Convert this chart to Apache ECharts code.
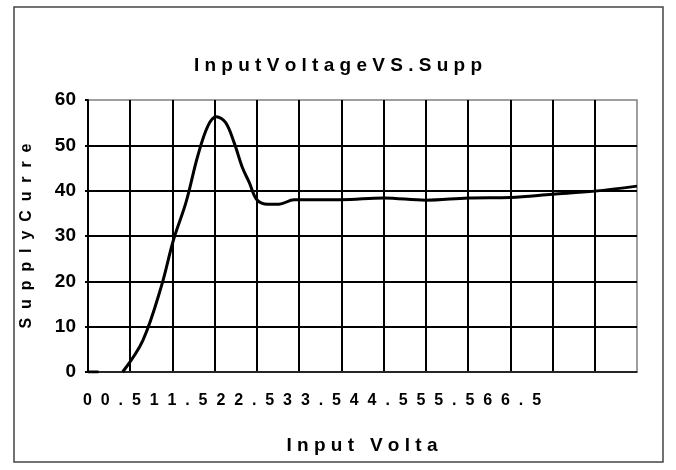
<!DOCTYPE html>
<html>
<head>
<meta charset="utf-8">
<script src="https://cdn.jsdelivr.net/npm/echarts@6/dist/echarts.min.js"></script>
<style>
  html, body { margin: 0; padding: 0; background: #fff; }
  #chart { width: 676px; height: 470px; }
</style>
</head>
<body>
<div id="chart"></div>
<script>
//titles as shown (truncated in the original)
const titleText = "InputVoltageVS.Supp";
const yName = "SupplyCurre";
const xName = "Input Volta";

//x tick labels (volts) - printed run together under the axis
const xTicks = ["0", "0.5", "1", "1.5", "2", "2.5", "3", "3.5", "4", "4.5", "5", "5.5", "6", "6.5"];

//short flat start segment
const stubX = [0, 0.125];
const stubY = [0, 0];

//main curve - input voltage (V) vs supply current
const voltX = [0.41, 0.65, 0.87, 1.01, 1.16, 1.30, 1.42, 1.52, 1.63, 1.73, 1.83, 1.91, 2.00, 2.13, 2.26, 2.44, 2.84, 3.00, 3.50, 4.00, 4.50, 5.00, 5.50, 6.00, 6.50];
const currY = [0, 7, 19, 29, 37.4, 47.7, 54.3, 56.3, 55, 50.6, 45, 41.8, 38, 37, 37, 38, 38, 38, 38.4, 37.9, 38.4, 38.5, 39.2, 39.9, 41];

const font = "'Liberation Sans', Arial, sans-serif";
const pair = (xs, ys) => xs.map((x, i) => [x, ys[i]]);
//letter spaced text, sep between every character
const spaced = (s, sep) => s.split("").join(sep);

const chart = echarts.init(document.getElementById("chart"));
const option = {
    backgroundColor: "#fff",
    animation: false,
    title: {
        text: spaced(titleText, " "),
        left: "center",
        top: 51,
        textStyle: { fontFamily: font, fontSize: 19, fontWeight: "bold", color: "#000" }
    },
    grid: {
        left: 88,
        right: 39,
        top: 100,
        bottom: 98,
        show: true,
        borderColor: "#808080",
        borderWidth: 1.5
    },
    xAxis: {
        type: "value",
        min: 0,
        max: 6.5,
        interval: 0.5,
        axisLine: { lineStyle: { color: "#333", width: 1.5 } },
        axisTick: { show: false },
        axisLabel: { show: false },
        splitLine: { show: true, showMaxLine: false, lineStyle: { color: "#000", width: 2 } }
    },
    yAxis: {
        type: "value",
        min: 0,
        max: 60,
        interval: 10,
        name: spaced(yName, "  "),
        nameLocation: "middle",
        nameRotate: 90,
        nameGap: 53,
        nameTextStyle: { fontFamily: font, fontSize: 16, fontWeight: "bold", color: "#000" },
        axisLine: { show: true, lineStyle: { color: "#000", width: 2 } },
        axisTick: { show: true, length: 3, lineStyle: { color: "#000", width: 2 } },
        axisLabel: { fontFamily: font, fontSize: 19, fontWeight: "bold", color: "#000", margin: 12 },
        splitLine: { show: true, showMaxLine: false, lineStyle: { color: "#000", width: 2 } }
    },
    graphic: [
        {
            type: "rect",
            shape: { x: 14, y: 7, width: 649, height: 455 },
            style: { fill: "none", stroke: "#444", lineWidth: 1.5 },
            silent: true
        },
        {
            type: "text",
            x: 83,
            y: 393,
            style: {
                text: spaced(xTicks.join(""), "  "),
                fontFamily: font, fontSize: 16, fontWeight: "bold", fill: "#000"
            }
        },
        {
            type: "text",
            x: 362,
            y: 436,
            style: {
                text: spaced(xName, " "),
                textAlign: "center",
                fontFamily: font, fontSize: 19, fontWeight: "bold", fill: "#000"
            }
        }
    ],
    series: [
        {
            type: "line",
            data: pair(stubX, stubY),
            showSymbol: false,
            lineStyle: { color: "#000", width: 3 }
        },
        {
            type: "line",
            data: pair(voltX, currY),
            smooth: 0.35,
            showSymbol: false,
            lineStyle: { color: "#000", width: 3 }
        }
    ]
};
chart.setOption(option);
</script>
</body>
</html>
